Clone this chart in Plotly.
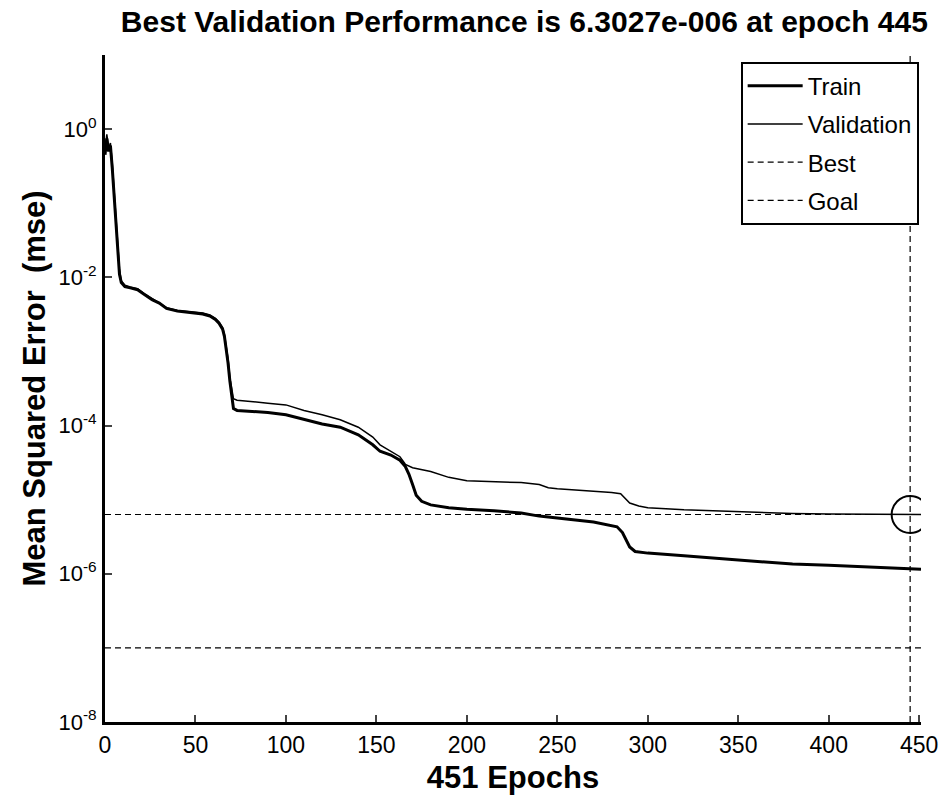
import plotly.graph_objects as go

# ---- data ----
train_epochs = [0, 1, 2, 3, 4, 5, 6, 7, 8, 9, 11, 14, 18, 22, 26, 30, 34, 40, 48, 54, 58, 61, 63, 65, 66, 67, 68, 69, 70, 71, 73, 80, 90, 100, 110, 120, 130, 140, 148, 152, 158, 163, 166, 168, 170, 172, 175, 180, 190, 200, 215, 230, 240, 250, 260, 270, 278, 283, 286, 288, 290, 293, 300, 320, 340, 360, 380, 400, 430, 451]
train_mse = [0.45, 0.75, 0.5, 0.6, 0.3, 0.12, 0.05, 0.02, 0.011, 0.0085, 0.0075, 0.0072, 0.0068, 0.0058, 0.005, 0.0045, 0.0038, 0.0035, 0.0033, 0.0032, 0.003, 0.0027, 0.0024, 0.002, 0.0016, 0.0011, 0.0007, 0.0004, 0.00025, 0.00017, 0.00016, 0.000155, 0.00015, 0.00014, 0.00012, 0.000105, 9.5e-05, 7.5e-05, 5.5e-05, 4.5e-05, 4e-05, 3.4e-05, 2.8e-05, 2.2e-05, 1.6e-05, 1.15e-05, 9.5e-06, 8.5e-06, 7.8e-06, 7.4e-06, 7.1e-06, 6.6e-06, 6e-06, 5.6e-06, 5.3e-06, 5e-06, 4.6e-06, 4.3e-06, 3.6e-06, 2.8e-06, 2.3e-06, 2e-06, 1.9e-06, 1.75e-06, 1.6e-06, 1.45e-06, 1.35e-06, 1.3e-06, 1.2e-06, 1.15e-06]

val_epochs = [0, 1, 2, 3, 4, 5, 6, 7, 8, 9, 11, 14, 18, 22, 26, 30, 34, 40, 48, 54, 58, 61, 63, 65, 66, 67, 68, 69, 70, 71, 73, 80, 90, 100, 110, 120, 130, 140, 148, 152, 158, 163, 166, 170, 180, 190, 200, 215, 230, 240, 245, 250, 260, 270, 280, 285, 288, 290, 295, 300, 320, 340, 360, 380, 400, 420, 445, 451]
val_mse = [0.5, 0.85, 0.55, 0.65, 0.35, 0.14, 0.06, 0.025, 0.013, 0.009, 0.0078, 0.0074, 0.007, 0.006, 0.0052, 0.0046, 0.0039, 0.0036, 0.0034, 0.0033, 0.0031, 0.0028, 0.0025, 0.0021, 0.0017, 0.0012, 0.0008, 0.00045, 0.0003, 0.00023, 0.00022, 0.00021, 0.0002, 0.00019, 0.00016, 0.00014, 0.00012, 9.5e-05, 7e-05, 5.5e-05, 4.5e-05, 3.8e-05, 3e-05, 2.7e-05, 2.4e-05, 2e-05, 1.8e-05, 1.75e-05, 1.7e-05, 1.6e-05, 1.45e-05, 1.4e-05, 1.35e-05, 1.3e-05, 1.25e-05, 1.2e-05, 1e-05, 9e-06, 8.2e-06, 7.8e-06, 7.3e-06, 7e-06, 6.7e-06, 6.5e-06, 6.4e-06, 6.35e-06, 6.3027e-06, 6.31e-06]

best_epoch = 445
best_perf = 6.3027e-06
goal = 1e-07
x_max = 451
y_tick_vals = [1e0, 1e-2, 1e-4, 1e-6, 1e-8]
y_tick_text = ["10<sup>0</sup>", "10<sup>-2</sup>", "10<sup>-4</sup>", "10<sup>-6</sup>", "10<sup>-8</sup>"]
x_tick_vals = [0, 50, 100, 150, 200, 250, 300, 350, 400, 450]

title_text = "Best Validation Performance is 6.3027e-006 at epoch 445"
x_title = "451 Epochs"
y_title = "Mean Squared Error  (mse)"

FONT = "Liberation Sans, Arial, sans-serif"
DASH = "6px,4px"

fig = go.Figure()
fig.add_trace(go.Scatter(x=train_epochs, y=train_mse, mode="lines", name="Train", legendgroup="a",
                         line=dict(color="black", width=3)))
fig.add_trace(go.Scatter(x=val_epochs, y=val_mse, mode="lines", name="Validation", legendgroup="b",
                         line=dict(color="black", width=1.5)))
fig.add_trace(go.Scatter(x=[0, x_max], y=[best_perf, best_perf], mode="lines", name="Best", legendgroup="c",
                         line=dict(color="black", width=1.2, dash=DASH)))
fig.add_trace(go.Scatter(x=[0, x_max], y=[goal, goal], mode="lines", name="Goal", legendgroup="d",
                         line=dict(color="black", width=1.2, dash=DASH)))
# vertical best-epoch line and circle (not in legend)
fig.add_trace(go.Scatter(x=[best_epoch, best_epoch], y=[1e-8, 10], mode="lines", showlegend=False,
                         line=dict(color="black", width=1.2, dash=DASH)))
fig.add_trace(go.Scatter(x=[best_epoch], y=[best_perf], mode="markers", showlegend=False,
                         marker=dict(symbol="circle-open", size=37, color="black",
                                     line=dict(width=2, color="black"))))

fig.update_layout(
    width=950, height=802,
    paper_bgcolor="white", plot_bgcolor="white",
    margin=dict(l=105, r=25, t=55, b=80),
    font=dict(family=FONT, color="black", size=22),
    title=dict(text="<b>" + title_text + "</b>", x=0.552, xanchor="center", y=0.973, yanchor="middle",
               font=dict(family=FONT, size=30, color="black")),
    showlegend=True,
    legend=dict(x=0.779, y=0.99, xanchor="left", yanchor="top",
                bordercolor="black", borderwidth=2, bgcolor="white",
                font=dict(family=FONT, size=24, color="black"),
                tracegroupgap=4, itemwidth=55),
)
fig.update_xaxes(range=[0, x_max], tickvals=x_tick_vals, ticks="inside", ticklen=7, tickwidth=2,
                 showline=True, linecolor="black", linewidth=3, mirror=False, showgrid=False,
                 zeroline=False, tickfont=dict(size=23, family=FONT),
                 title=dict(text="<b>" + x_title + "</b>", font=dict(size=31, family=FONT), standoff=10))
fig.update_yaxes(type="log", range=[-8, 1], tickvals=y_tick_vals, ticktext=y_tick_text,
                 ticks="inside", ticklen=7, tickwidth=2, ticklabelstandoff=1,
                 showline=True, linecolor="black", linewidth=3, mirror=False, showgrid=False,
                 zeroline=False, tickfont=dict(size=22, family=FONT),
                 title=dict(text="<b>" + y_title + "</b>", font=dict(size=31, family=FONT), standoff=4))

fig.write_html("out.html")
